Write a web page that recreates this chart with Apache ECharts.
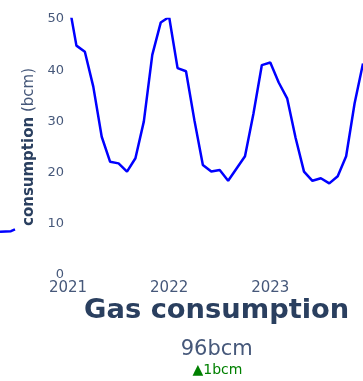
<!DOCTYPE html>
<html>
<head>
<meta charset="utf-8">
<script src="https://cdn.jsdelivr.net/npm/echarts@6/dist/echarts.min.js"></script>
<style>
  html, body { margin: 0; padding: 0; background: #ffffff; }
  #chart { width: 363px; height: 381px; }
</style>
</head>
<body>
<div id="chart"></div>
<script>
// Monthly gas consumption, bcm
const months = [
  '2021-01', '2021-02', '2021-03', '2021-04', '2021-05', '2021-06',
  '2021-07', '2021-08', '2021-09', '2021-10', '2021-11', '2021-12',
  '2022-01', '2022-02', '2022-03', '2022-04', '2022-05', '2022-06',
  '2022-07', '2022-08', '2022-09', '2022-10', '2022-11', '2022-12',
  '2023-01', '2023-02', '2023-03', '2023-04', '2023-05', '2023-06',
  '2023-07', '2023-08', '2023-09', '2023-10', '2023-11', '2023-12'
];
const consumption = [
  54.0, 44.8, 43.6, 36.8, 27.0, 22.1, 21.8, 20.2, 22.8, 30.0, 43.0, 49.3,
  50.4, 40.4, 39.8, 30.2, 21.5, 20.2, 20.5, 18.4, 20.8, 23.2, 31.5, 41.0,
  41.5, 37.6, 34.5, 26.8, 20.2, 18.4, 18.9, 17.9, 19.3, 23.2, 33.5, 41.3
];

// Tail end of the neighbouring panel's line
const leftX = [0, 7.3, 10];
const leftValues = [8.45, 8.55, 8.9];

const firstYear = 2021;
const yAxisTitleBold = 'consumption';
const yAxisTitleUnit = '(bcm)';
const titleText = 'Gas consumption';
const totalText = '96bcm';
const deltaText = '\u25B21bcm';

const FONT = 'DejaVu Sans';
const TEXT = '#2a3f5f';
const TEXT_LIGHT = '#46587a';

function monthIndex(s) {
  const [y, m] = s.split('-').map(Number);
  return (y - firstYear) * 12 + (m - 1);
}

const mainData = months.map((m, i) => [monthIndex(m), consumption[i]]);
const leftData = leftX.map((x, i) => [x, leftValues[i]]);

const chart = echarts.init(document.getElementById('chart'), null, { renderer: 'canvas' });

chart.setOption({
  animation: false,
  backgroundColor: '#ffffff',
  grid: [
    { left: 68, right: -2, top: 19, bottom: 106 },
    { left: 0, width: 15, top: 19, bottom: 106 }
  ],
  xAxis: [
    {
      gridIndex: 0,
      type: 'value',
      min: 0,
      max: 35,
      interval: 12,
      axisLine: { show: false },
      axisTick: { show: false },
      splitLine: { show: false },
      axisLabel: {
        margin: 6,
        fontFamily: FONT,
        fontSize: 15,
        color: TEXT_LIGHT,
        showMaxLabel: false,
        formatter: v => (v % 12 === 0 ? String(firstYear + v / 12) : '')
      }
    },
    { gridIndex: 1, type: 'value', min: 0, max: 10, show: false }
  ],
  yAxis: [
    {
      gridIndex: 0,
      type: 'value',
      min: 0,
      max: 50,
      interval: 10,
      axisLine: { show: false },
      axisTick: { show: false },
      splitLine: { show: false },
      axisLabel: { margin: 4, fontFamily: FONT, fontSize: 13, color: TEXT_LIGHT },
      name: '{b|' + yAxisTitleBold + '} {n|' + yAxisTitleUnit + '}',
      nameLocation: 'middle',
      nameGap: 31,
      nameTextStyle: {
        color: TEXT,
        fontFamily: FONT,
        fontSize: 15,
        rich: {
          b: { fontFamily: FONT, fontSize: 15, fontWeight: 'bold', color: TEXT },
          n: { fontFamily: FONT, fontSize: 15, color: TEXT_LIGHT }
        }
      }
    },
    { gridIndex: 1, type: 'value', min: 0, max: 50, show: false }
  ],
  series: [
    {
      type: 'line',
      xAxisIndex: 0,
      yAxisIndex: 0,
      data: mainData,
      showSymbol: false,
      clip: true,
      lineStyle: { color: '#0000ff', width: 2.5 }
    },
    {
      type: 'line',
      xAxisIndex: 1,
      yAxisIndex: 1,
      data: leftData,
      showSymbol: false,
      clip: true,
      lineStyle: { color: '#0000ff', width: 2.5 }
    }
  ],
  graphic: [
    {
      type: 'text',
      x: 216.7,
      y: 311,
      style: {
        text: titleText,
        fill: TEXT,
        font: 'bold 27.3px "' + FONT + '"',
        align: 'center',
        verticalAlign: 'middle'
      }
    },
    {
      type: 'text',
      x: 216.7,
      y: 350,
      style: {
        text: totalText,
        fill: TEXT_LIGHT,
        font: '21px "' + FONT + '"',
        align: 'center',
        verticalAlign: 'middle'
      }
    },
    {
      type: 'text',
      x: 217.5,
      y: 370,
      style: {
        text: deltaText,
        fill: '#008000',
        font: '14px "' + FONT + '"',
        align: 'center',
        verticalAlign: 'middle'
      }
    }
  ]
});
</script>
</body>
</html>
